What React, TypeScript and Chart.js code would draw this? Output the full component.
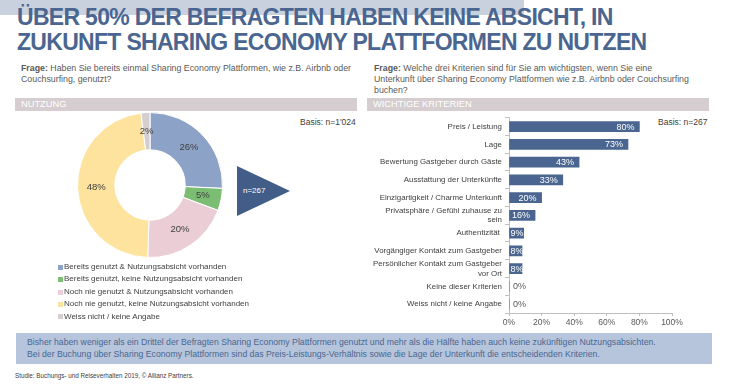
import React, { useEffect, useRef } from "react";
import { Chart, registerables } from "chart.js";

Chart.register(...registerables);

const FONT = "'Liberation Sans', Arial, sans-serif";

// ---- Data: usage doughnut ----
const usageLabels = [
  "Bereits genutzt & Nutzungsabsicht vorhanden",
  "Bereits genutzt, keine Nutzungsabsicht vorhanden",
  "Noch nie genutzt & Nutzungsabsicht vorhanden",
  "Noch nie genutzt, keine Nutzungsabsicht vorhanden",
  "Weiss nicht / keine Angabe",
];
const usageValues = [26, 5, 20, 48, 2];
const usageColors = ["#8ca2c6", "#7cbd74", "#ebcdd6", "#fde39d", "#d4cecf"];

// ---- Data: criteria bar chart ----
const criteriaLabels: (string | string[])[] = [
  "Preis / Leistung",
  "Lage",
  "Bewertung Gastgeber durch Gäste",
  "Ausstattung der Unterkünfte",
  "Einzigartigkeit / Charme Unterkunft",
  ["Privatsphäre / Gefühl zuhause zu", "sein"],
  "Authentizität ",
  "Vorgängiger Kontakt zum Gastgeber",
  ["Persönlicher Kontakt zum Gastgeber", "vor Ort"],
  "Keine dieser Kriterien",
  "Weiss nicht / keine Angabe",
];
const criteriaValues = [80, 73, 43, 33, 20, 16, 9, 8, 8, 0, 0];
const xTickValues = [0, 20, 40, 60, 80, 100];

const doughnutLabelPlugin = {
  id: "doughnutLabels",
  afterDatasetsDraw(chart: any) {
    const ctx = chart.ctx;
    const meta = chart.getDatasetMeta(0);
    ctx.save();
    ctx.font = `9.5px ${FONT}`;
    ctx.fillStyle = "#404040";
    ctx.textAlign = "center";
    ctx.textBaseline = "middle";
    meta.data.forEach((arc: any, i: number) => {
      const p = arc.tooltipPosition(false);
      ctx.fillText(usageValues[i] + "%", p.x, p.y);
    });
    ctx.restore();
  },
};

const barLabelPlugin = {
  id: "barLabels",
  afterDatasetsDraw(chart: any) {
    const ctx = chart.ctx;
    const meta = chart.getDatasetMeta(0);
    ctx.save();
    ctx.font = `9px ${FONT}`;
    ctx.textBaseline = "middle";
    ctx.textAlign = "left";
    meta.data.forEach((bar: any, i: number) => {
      const v = criteriaValues[i];
      const text = v + "%";
      const w = ctx.measureText(text).width;
      const base = bar.base;
      const end = bar.x;
      let x: number;
      if (v === 0) {
        ctx.fillStyle = "#595959";
        x = base + 4;
      } else {
        ctx.fillStyle = "#ffffff";
        x = Math.max(end - 5 - w, base + 1);
      }
      ctx.fillText(text, x, bar.y + 0.5);
    });
    ctx.restore();
  },
};

function UsageChart() {
  const ref = useRef<HTMLCanvasElement>(null);
  useEffect(() => {
    const chart = new Chart(ref.current!, {
      type: "doughnut",
      data: {
        labels: usageLabels,
        datasets: [
          {
            data: usageValues,
            backgroundColor: usageColors,
            borderColor: "#ffffff",
            borderWidth: 1,
          },
        ],
      },
      options: {
        responsive: false,
        animation: false,
        cutout: "48.6%",
        layout: { padding: 7 },
        plugins: { legend: { display: false }, tooltip: { enabled: false } },
      },
      plugins: [doughnutLabelPlugin],
    });
    return () => chart.destroy();
  }, []);
  return (
    <canvas
      ref={ref}
      width={160}
      height={160}
      style={{ position: "absolute", left: 70, top: 105, width: 160, height: 160 }}
    />
  );
}

function CriteriaChart() {
  const ref = useRef<HTMLCanvasElement>(null);
  useEffect(() => {
    const chart = new Chart(ref.current!, {
      type: "bar",
      data: {
        labels: criteriaLabels,
        datasets: [
          {
            data: criteriaValues,
            backgroundColor: "#4a6690",
            barThickness: 10,
          },
        ],
      },
      options: {
        indexAxis: "y",
        responsive: false,
        animation: false,
        layout: { padding: { top: 6, right: 25, left: 0, bottom: 0 } },
        plugins: { legend: { display: false }, tooltip: { enabled: false } },
        scales: {
          x: {
            min: 0,
            max: 100,
            afterBuildTicks: (scale: any) => {
              scale.ticks = xTickValues.map((v) => ({ value: v }));
            },
            afterFit: (scale: any) => {
              scale.height = 17;
            },
            grid: { drawOnChartArea: false, drawTicks: true, tickLength: 3, color: "#bfbfbf" },
            border: { color: "#bfbfbf" },
            ticks: {
              padding: 2,
              color: "#595959",
              font: { family: FONT, size: 8.5 },
              callback: (v: any) => v + "%",
            },
          },
          y: {
            afterFit: (scale: any) => {
              scale.width = 149;
            },
            grid: { drawOnChartArea: false, drawTicks: true, tickLength: 4, color: "#bfbfbf", offset: true },
            border: { color: "#bfbfbf" },
            ticks: {
              padding: 3,
              color: "#404040",
              font: { family: FONT, size: 7.9, lineHeight: 1.2 },
              autoSkip: false,
            },
          },
        },
      },
      plugins: [barLabelPlugin],
    });
    return () => chart.destroy();
  }, []);
  return (
    <canvas
      ref={ref}
      width={337}
      height={220}
      style={{ position: "absolute", left: 360, top: 110, width: 337, height: 220 }}
    />
  );
}

const abs = (s: React.CSSProperties): React.CSSProperties => ({ position: "absolute", ...s });

export default function App() {
  return (
    <div
      style={{
        position: "absolute",
        left: 0,
        top: 0,
        width: 730,
        height: 385,
        overflow: "hidden",
        background: "#ffffff",
        fontFamily: FONT,
      }}
    >
      <div style={abs({ left: 0, top: 0, width: 524, height: 15, background: "#c8d1dd" })} />
      <div
        style={abs({
          left: 17,
          top: 5,
          fontSize: 23,
          lineHeight: "25px",
          fontWeight: "bold",
          letterSpacing: "-0.7px",
          color: "#4a6690",
          whiteSpace: "nowrap",
        })}
      >
        ÜBER 50% DER BEFRAGTEN HABEN KEINE ABSICHT, IN
        <br />
        ZUKUNFT SHARING ECONOMY PLATTFORMEN ZU NUTZEN
      </div>

      <div style={abs({ left: 21, top: 62.5, fontSize: 8.8, lineHeight: "11px", color: "#595959", whiteSpace: "nowrap" })}>
        <b>Frage:</b> Haben Sie bereits einmal Sharing Economy Plattformen, wie z.B. Airbnb oder
        <br />
        Couchsurfing, genutzt?
      </div>
      <div style={abs({ left: 374, top: 62.5, fontSize: 8.8, lineHeight: "11px", color: "#595959", whiteSpace: "nowrap" })}>
        <b>Frage:</b> Welche drei Kriterien sind für Sie am wichtigsten, wenn Sie eine
        <br />
        Unterkunft über Sharing Economy Plattformen wie z.B. Airbnb oder Couchsurfing
        <br />
        buchen?
      </div>

      <div
        style={abs({
          left: 15,
          top: 98,
          width: 342,
          height: 13,
          background: "#d5cdcf",
          color: "#ffffff",
          fontSize: 9.3,
          lineHeight: "13px",
          paddingLeft: 6,
          boxSizing: "border-box",
        })}
      >
        NUTZUNG
      </div>
      <div
        style={abs({
          left: 367,
          top: 98,
          width: 342,
          height: 13,
          background: "#d5cdcf",
          color: "#ffffff",
          fontSize: 9.3,
          lineHeight: "13px",
          paddingLeft: 6,
          boxSizing: "border-box",
        })}
      >
        WICHTIGE KRITERIEN
      </div>

      <div style={abs({ left: 300, top: 117, fontSize: 8.5, color: "#404040", whiteSpace: "nowrap" })}>Basis: n=1'024</div>
      <div style={abs({ left: 658, top: 117, fontSize: 8.5, color: "#404040", whiteSpace: "nowrap" })}>Basis: n=267</div>

      <UsageChart />

      <div style={abs({ left: 58, top: 261, fontSize: 8, lineHeight: "12.4px", color: "#404040", whiteSpace: "nowrap" })}>
        {usageLabels.map((l, i) => (
          <div key={i} style={{ display: "flex", alignItems: "center" }}>
            <span style={{ display: "inline-block", width: 5, height: 5, background: usageColors[i], marginRight: 1 }} />
            {l}
          </div>
        ))}
      </div>

      <svg style={abs({ left: 237, top: 166 })} width={54} height={51}>
        <polygon points="0,0 0,50 53,25" fill="#425d87" />
      </svg>
      <div style={abs({ left: 243, top: 186, fontSize: 8, color: "#ffffff", whiteSpace: "nowrap" })}>n=267</div>

      <CriteriaChart />

      <div
        style={abs({
          left: 16,
          top: 333,
          width: 696,
          height: 31,
          background: "#b6c5dc",
          color: "#4a6690",
          fontSize: 8.7,
          lineHeight: "11.5px",
          paddingLeft: 11,
          paddingTop: 4,
          boxSizing: "border-box",
          whiteSpace: "nowrap",
        })}
      >
        Bisher haben weniger als ein Drittel der Befragten Sharing Economy Plattformen genutzt und mehr als die Hälfte haben auch keine zukünftigen Nutzungsabsichten.
        <br />
        Bei der Buchung über Sharing Economy Plattformen sind das Preis-Leistungs-Verhältnis sowie die Lage der Unterkunft die entscheidenden Kriterien.
      </div>

      <div style={abs({ left: 15, top: 372, fontSize: 6.3, color: "#404040", whiteSpace: "nowrap" })}>
        Studie: Buchungs- und Reiseverhalten 2019, © Allianz Partners.
      </div>
    </div>
  );
}
